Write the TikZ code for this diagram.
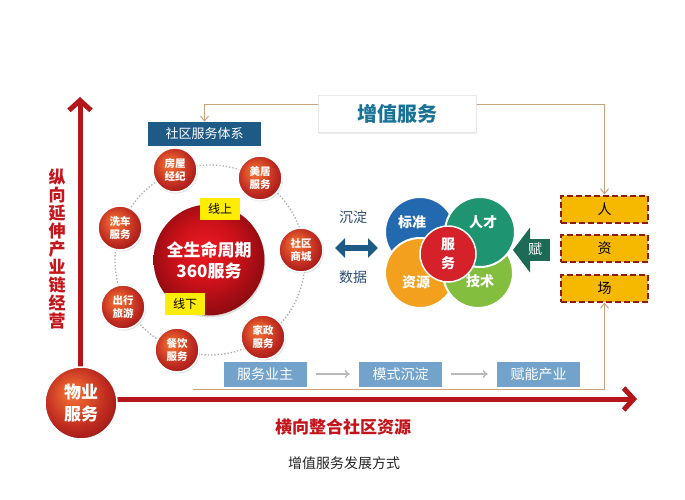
\documentclass[tikz,border=0pt]{standalone}
\usepackage{fontspec}
\setmainfont{Noto Sans CJK SC}
\usetikzlibrary{arrows.meta,shadows}
\definecolor{axisred}{HTML}{B5161C}
\definecolor{txtred}{HTML}{C4141C}
\definecolor{navy}{HTML}{1D5A85}
\definecolor{tanl}{HTML}{C9A27E}
\definecolor{vblue}{HTML}{2369B0}
\definecolor{vteal}{HTML}{1E9470}
\definecolor{vorange}{HTML}{F2A01E}
\definecolor{vgreen}{HTML}{84BE3F}
\definecolor{vred}{HTML}{D4212A}
\definecolor{fugreen}{HTML}{1D6B55}
\definecolor{boxyel}{HTML}{F7B900}
\definecolor{dashred}{HTML}{8E1B12}
\definecolor{procblue}{HTML}{73A3CB}
\definecolor{sedblue}{HTML}{2C4F73}
\definecolor{ballA}{HTML}{F2763A}
\definecolor{ballB}{HTML}{E2582C}
\definecolor{ballC}{HTML}{BE2A20}
\definecolor{ballD}{HTML}{A01A18}
\definecolor{bigA}{HTML}{EC1A22}
\definecolor{bigB}{HTML}{CC111A}
\definecolor{bigC}{HTML}{8E0B10}
\pgfdeclareradialshading{smallball}{\pgfpoint{-7bp}{8bp}}{color(0bp)=(ballA); color(9bp)=(ballB); color(22bp)=(ballC); color(30bp)=(ballD); color(50bp)=(ballD)}
\pgfdeclareradialshading{bigball}{\pgfpoint{-2bp}{5bp}}{color(0bp)=(bigA); color(14bp)=(bigB); color(27bp)=(bigC); color(50bp)=(bigC)}
\tikzset{
  ball/.style={circle, minimum size=44pt, inner sep=0pt, draw=white, line width=1.5pt, shading=smallball, text=white, align=center, font=\bfseries\fontsize{10.5}{12.5}\selectfont, drop shadow={opacity=0.25, shadow xshift=1pt, shadow yshift=-1.5pt}},
  tagbox/.style={fill=yellow!95!orange, minimum width=40pt, minimum height=22pt, inner sep=0pt, font=\fontsize{12}{14}\selectfont, text=black},
  venn/.style={circle, minimum size=70pt, inner sep=0pt, draw=white, line width=2pt},
  vlabel/.style={text=white, font=\bfseries\fontsize{14}{16}\selectfont},
  resbox/.style={fill=boxyel, draw=dashred, line width=2pt, dash pattern=on 6pt off 3pt, minimum width=87pt, minimum height=27pt, inner sep=0pt, font=\fontsize{14}{16}\selectfont, text=black},
  procbox/.style={fill=procblue, text=white, minimum width=83pt, minimum height=25pt, inner sep=0pt, font=\fontsize{14}{16}\selectfont},
  procarrow/.style={gray!55, line width=1.3pt, -{To[length=5pt,width=8pt]}, shorten <=9pt, shorten >=9pt},
  tanarrow/.style={tanl, line width=1pt, -{Straight Barb[length=5pt,width=8pt]}},
  axis/.style={axisred, line width=5pt, -{Straight Barb[length=10pt,width=22pt]}},
}
\begin{document}
\begin{tikzpicture}[x=1pt,y=-1pt]
\useasboundingbox[fill=white] (0,0) rectangle (685,500);

% ---------- axes ----------
\coordinate (vtip) at (80,97);
\coordinate (htip) at (637,399);
\coordinate (vbase) at (80,399);
\draw[axis] (vbase) -- (vtip);
\draw[axis] (vbase) -- (htip);
\node[circle, minimum size=72pt, inner sep=0pt, draw=white, line width=1.5pt, shading=smallball, text=white, align=center, font=\bfseries\fontsize{17}{22}\selectfont] (wuye) at (81,403) {物业\\服务};

\node[text=txtred, align=center, font=\bfseries\fontsize{17}{17.9}\selectfont] (vlab) at (57,249) {纵\\向\\延\\伸\\产\\业\\链\\经\\营};
\node[text=txtred, font=\bfseries\fontsize{17}{20}\selectfont] (hlab) at (343,427) {横向整合社区资源};
\node[text=black!85, font=\fontsize{14}{16}\selectfont] (cap) at (344,463) {增值服务发展方式};

% ---------- top box and tan connectors ----------
\node[fill=navy, text=white, minimum width=113pt, minimum height=24pt, inner sep=0pt, font=\fontsize{13}{15}\selectfont] (sq) at (204.5,134) {社区服务体系};

\node[resbox] (ren) at (604.5,209) {人};
\node[resbox] (zi) at (604.5,248.5) {资};
\node[resbox] (chang) at (604.5,288) {场};

\coordinate (topL) at (318,105);
\coordinate (topR) at (476,105);
\draw[tanarrow] (topL) -| (sq.north);
\draw[tanarrow] (topR) -| (ren.north);
\coordinate (botL) at (193,389);
\draw[tanarrow] (botL) -| (chang.south);

\node[fill=white, draw=gray!18, line width=0.8pt, minimum width=158pt, minimum height=37pt, inner sep=0pt, drop shadow={opacity=0.12, shadow xshift=1pt, shadow yshift=-1.5pt}] (zz) at (397,114) {};
\node[text=navy!85!cyan, font=\bfseries\fontsize{20}{22}\selectfont] at (zz.center) {增值服务};

% ---------- service ring ----------
\draw[gray!65, dotted, line width=1.3pt] (210,260) circle (95pt);
\node[circle, minimum size=111pt, inner sep=0pt, shading=bigball, text=white, align=center, font=\bfseries\fontsize{17}{21}\selectfont, drop shadow={opacity=0.25, shadow xshift=1pt, shadow yshift=-2pt}] (core) at (209,260) {全生命周期\\360服务};
\node[tagbox] (on) at (220,209) {线上};
\node[tagbox] (off) at (185,304) {线下};

\node[ball] (b1) at (175,170) {房屋\\经纪};
\node[ball] (b2) at (260,178) {美居\\服务};
\node[ball] (b3) at (120,228) {洗车\\服务};
\node[ball] (b4) at (301,250) {社区\\商城};
\node[ball] (b5) at (123,307) {出行\\旅游};
\node[ball] (b6) at (263,337) {家政\\服务};
\node[ball] (b7) at (177,350) {餐饮\\服务};

% ---------- sediment / data ----------
\node[text=sedblue, font=\fontsize{14}{16}\selectfont] (cd) at (353,217) {沉淀};
\node[text=sedblue, font=\fontsize{14}{16}\selectfont] (sj) at (353,277) {数据};
\coordinate (dl) at (335,248);
\coordinate (dr) at (378,248);
\draw[navy, line width=6pt, {Triangle[length=10pt,width=19pt]}-{Triangle[length=10pt,width=19pt]}] (dl) -- (dr);

% ---------- venn ----------
\node[venn, fill=vblue] (c1) at (420,232) {};
\node[venn, fill=vorange] (c3) at (420,273) {};
\node[venn, fill=vgreen] (c4) at (478,273) {};
\node[venn, fill=vteal] (c2) at (480,232) {};
\node[vlabel] at (412,222) {标准};
\node[vlabel] at (483,222) {人才};
\node[vlabel] at (416,282) {资源};
\node[vlabel] at (480,281) {技术};
\node[circle, minimum size=56pt, inner sep=0pt, fill=vred, draw=white, line width=1.5pt, text=white, align=center, font=\bfseries\fontsize{14}{19}\selectfont] (fw) at (448,254) {服\\务};

% ---------- fu arrow ----------
\coordinate (fs) at (550,250);
\coordinate (fe) at (513,250);
\draw[fugreen, line width=22pt, -{Triangle[length=17pt,width=44pt]}] (fs) -- (fe);
\node[text=white, font=\fontsize{14}{16}\selectfont] (fu) at (535,249) {赋};

% ---------- process ----------
\node[procbox] (p1) at (265,374) {服务业主};
\node[procbox] (p2) at (400.5,374) {模式沉淀};
\node[procbox] (p3) at (538.5,374) {赋能产业};
\draw[procarrow] (p1) -- (p2);
\draw[procarrow] (p2) -- (p3);
\end{tikzpicture}
\end{document}
